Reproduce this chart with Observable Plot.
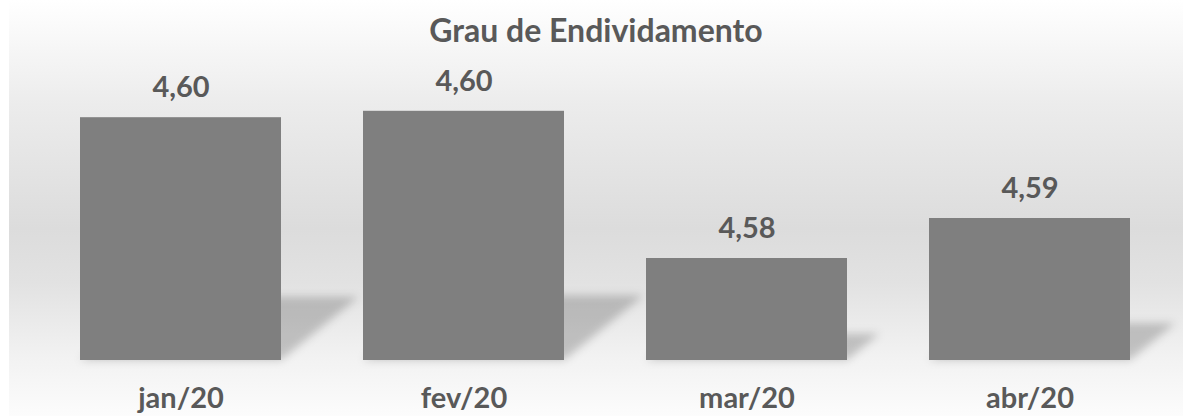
<!DOCTYPE html>
<html>
<head>
<meta charset="utf-8">
<script src="https://cdn.jsdelivr.net/npm/d3@7"></script>
<script src="https://cdn.jsdelivr.net/npm/@observablehq/plot@0.6"></script>
<style>
  html, body { margin: 0; padding: 0; background: #ffffff; }
  #wrap { position: relative; width: 1183px; height: 419px; overflow: hidden; }
  #bg { position: absolute; left: 9px; top: 0; width: 1174px; height: 416px;
        background: linear-gradient(to bottom, #ffffff 0%, #ececec 25%, #dcdcdc 55%, #e2e2e2 68%, #f2f2f2 86%, #fcfcfc 100%); }
  #title { position: relative; height: 60px; line-height: 60px; text-align: center;
           font-family: Lato, sans-serif; font-weight: 700; font-size: 32px; color: #595959; padding-left: 9px; }
  #chart { position: relative; }
  #chart svg { background: transparent; display: block; }
</style>
</head>
<body>
<div id="wrap">
  <div id="bg"></div>
  <div id="title">Grau de Endividamento</div>
  <div id="chart"></div>
</div>
<script>
const categories = ["jan/20", "fev/20", "mar/20", "abr/20"];
const values = [4.5981, 4.5989, 4.5805, 4.5855];

const data = categories.map((c, i) => ({cat: c, value: values[i]}));
const fmt = v => v.toFixed(2).replace(".", ",");

const barColor = "#7f7f7f";
const textColor = "#595959";
const font = "Lato, sans-serif";

function shadowMark(index, scales, vals, dims, context) {
  const svg = d3.create("svg:g");
  const defs = svg.append("defs");
  defs.append("filter").attr("id", "shblur").attr("x", "-20%").attr("y", "-50%")
    .attr("width", "140%").attr("height", "200%")
    .append("feGaussianBlur").attr("stdDeviation", 4);
  const x = scales.x, y = scales.y;
  const bw = x.bandwidth();
  const y0 = y(y.domain()[0]);
  for (const d of data) {
    const x1 = x(d.cat), x2 = x1 + bw;
    const yt = y(d.value);
    const h = y0 - yt;
    const sh = 0.26 * h, dx = 0.32 * h;
    const pts = [[x1, y0], [x2, y0], [x2 + dx, y0 - sh], [x1 + dx, y0 - sh]];
    svg.append("polygon").attr("points", pts.map(p => p.join(",")).join(" "))
      .attr("fill", "#000").attr("fill-opacity", 0.2).attr("filter", "url(#shblur)");
  }
  return svg.node();
}

const yMin = 4.56775;
const yMax = 4.60525;

const chart = Plot.plot({
  width: 1183,
  height: 359,
  marginLeft: 38.75,
  marginRight: 11,
  marginTop: 0,
  marginBottom: 59,
  style: {background: "transparent", overflow: "visible"},
  x: {domain: categories, paddingInner: 0.29, paddingOuter: 0.145, label: null},
  y: {domain: [yMin, yMax], axis: null},
  marks: [
    shadowMark,
    Plot.barY(data, {x: "cat", y1: yMin, y2: "value", fill: barColor}),
    Plot.text(data, {x: "cat", y: "value", text: d => fmt(d.value), dy: -30,
      lineAnchor: "middle", fill: textColor, fontSize: 29, fontWeight: 700, fontFamily: font}),
    Plot.axisX({tickSize: 0, tickPadding: 27, fontSize: 29, fontWeight: 700, fontFamily: font,
      color: textColor, label: null})
  ]
});
document.getElementById("chart").appendChild(chart);
</script>
</body>
</html>
